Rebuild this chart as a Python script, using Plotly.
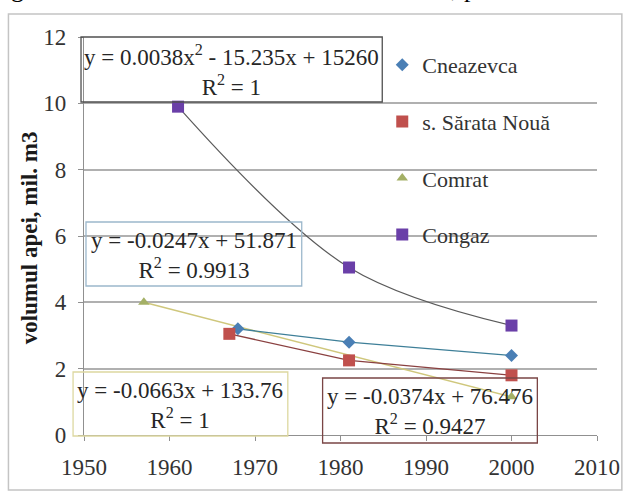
import plotly.graph_objects as go

# ---- data ----
cneazevca_years = [1968, 1981, 2000]
cneazevca_vol = [3.2, 2.8, 2.4]
sarata_years = [1967, 1981, 2000]
sarata_vol = [3.05, 2.25, 1.8]
comrat_years = [1957, 2000]
comrat_vol = [4.0, 1.15]
congaz_years = [1961, 1981, 2000]
congaz_vol = [9.9, 5.05, 3.3]

series_names = ["Cneazevca", "s. Sărata Nouă", "Comrat", "Congaz"]
equations = [
    ("y = 0.0038x<sup>2</sup> - 15.235x + 15260", "R<sup>2</sup> = 1"),
    ("y = -0.0247x + 51.871", "R<sup>2</sup> = 0.9913"),
    ("y = -0.0663x + 133.76", "R<sup>2</sup> = 1"),
    ("y = -0.0374x + 76.476", "R<sup>2</sup> = 0.9427"),
]
x_ticks = [1950, 1960, 1970, 1980, 1990, 2000, 2010]
y_ticks = [0, 2, 4, 6, 8, 10, 12]

# ---- layout geometry ----
W, H = 632, 494
L, R, T, B = 84, 32, 37, 59
PW, PH = W - L - R, H - T - B
def px(x):
    return (x - L) / PW
def py(y):
    return (H - B - y) / PH

FONT = "Liberation Serif"

fig = go.Figure()

# trend lines
fig.add_trace(go.Scatter(x=congaz_years, y=congaz_vol, mode="lines",
                         line=dict(color="#5a5a5a", width=1.2, shape="spline"),
                         showlegend=False, hoverinfo="skip"))
fig.add_trace(go.Scatter(x=comrat_years, y=comrat_vol, mode="lines",
                         line=dict(color="#cfc77c", width=1.5),
                         showlegend=False, hoverinfo="skip"))
fig.add_trace(go.Scatter(x=sarata_years, y=sarata_vol, mode="lines",
                         line=dict(color="#8a4040", width=1.3),
                         showlegend=False, hoverinfo="skip"))
fig.add_trace(go.Scatter(x=cneazevca_years, y=cneazevca_vol, mode="lines",
                         line=dict(color="#3e7f98", width=1.3),
                         showlegend=False, hoverinfo="skip"))

# series markers
fig.add_trace(go.Scatter(x=cneazevca_years, y=cneazevca_vol, mode="markers",
                         name=series_names[0], legendgroup="a",
                         marker=dict(symbol="diamond", size=10, color="#4a7fb5")))
fig.add_trace(go.Scatter(x=sarata_years, y=sarata_vol, mode="markers",
                         name=series_names[1], legendgroup="b",
                         marker=dict(symbol="square", size=12, color="#c0504d")))
fig.add_trace(go.Scatter(x=comrat_years, y=comrat_vol, mode="markers",
                         name=series_names[2], legendgroup="c",
                         marker=dict(symbol="triangle-up", size=10, color="#a4b066")))
fig.add_trace(go.Scatter(x=congaz_years, y=congaz_vol, mode="markers",
                         name=series_names[3], legendgroup="d",
                         marker=dict(symbol="square", size=12, color="#6a3fa8")))

# equation boxes (pixel rectangles) and texts
boxes = [
    ((81, 37, 384, 102), "#505050"),
    ((86, 222, 303, 286), "#9cb8cc"),
    ((73, 372, 289, 436), "#ddd8a0"),
    ((324, 378, 540, 443), "#7a4545"),
]
shapes = []
annotations = []
for (x0, y0, x1, y1), col in boxes:
    shapes.append(dict(type="rect", xref="paper", yref="paper",
                       x0=px(x0), x1=px(x1), y0=py(y1), y1=py(y0),
                       line=dict(color=col, width=1.3), fillcolor="rgba(0,0,0,0)",
                       layer="above"))
for ((x0, y0, x1, y1), col), (l1, l2) in zip(boxes, equations):
    annotations.append(dict(xref="paper", yref="paper",
                            x=px((x0 + x1) / 2), y=py((y0 + y1) / 2 + 1),
                            text=l1 + "<br>" + l2, showarrow=False,
                            xanchor="center", yanchor="middle", align="center",
                            font=dict(family=FONT, size=23, color="#262626")))

# outer frame
shapes.append(dict(type="rect", xref="paper", yref="paper",
                   x0=px(8), x1=px(625), y0=py(490), y1=py(14),
                   line=dict(color="#c4c4c4", width=1.5), layer="below"))

# y-axis title
annotations.append(dict(xref="paper", yref="paper", x=px(29), y=py(238),
                        text="<b>volumul apei, mil. m3</b>", textangle=-90,
                        showarrow=False, xanchor="center", yanchor="middle",
                        font=dict(family=FONT, size=23, color="#1a1a1a")))

# cut-off document text at the top
annotations.append(dict(xref="paper", yref="paper", x=px(17), y=py(5),
                        text="g", showarrow=False, xanchor="center", yanchor="bottom",
                        font=dict(family=FONT, size=26, color="#000")))
annotations.append(dict(xref="paper", yref="paper", x=px(466), y=py(5),
                        text=", p", showarrow=False, xanchor="center", yanchor="bottom",
                        font=dict(family=FONT, size=26, color="#000")))

fig.update_layout(
    width=W, height=H, autosize=False,
    margin=dict(l=L, r=R, t=T, b=B, pad=0),
    paper_bgcolor="white", plot_bgcolor="white",
    font=dict(family=FONT, size=22, color="#333"),
    showlegend=True,
    legend=dict(x=px(384), y=py(44), xanchor="left", yanchor="top",
                bgcolor="rgba(0,0,0,0)", borderwidth=0,
                font=dict(family=FONT, size=22, color="#333"),
                tracegroupgap=25, traceorder="grouped"),
    shapes=shapes, annotations=annotations,
    xaxis=dict(range=[1950, 2010], tickvals=x_ticks, ticktext=[str(v) for v in x_ticks],
               showgrid=False, zeroline=False, showline=True, linecolor="#909090",
               linewidth=1.2, ticks="outside", ticklen=5, tickcolor="#909090",
               ticklabelstandoff=6,
               tickfont=dict(family=FONT, size=23, color="#333")),
    yaxis=dict(range=[0, 12], tickvals=y_ticks, ticktext=[str(v) for v in y_ticks],
               showgrid=True, gridcolor="#b0b0b0", gridwidth=1.5, zeroline=False,
               showline=True, linecolor="#909090", linewidth=1.2,
               ticks="outside", ticklen=5, tickcolor="#909090",
               ticklabelstandoff=7,
               tickfont=dict(family=FONT, size=23, color="#333")),
)

fig.write_html("out.html")
